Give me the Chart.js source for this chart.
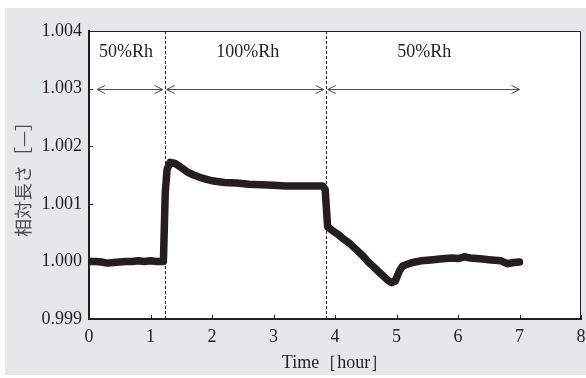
<!DOCTYPE html>
<html>
<head>
<meta charset="utf-8">
<script src="https://cdn.jsdelivr.net/npm/chart.js@4.4.1/dist/chart.umd.min.js"></script>
<style>
  html, body { margin: 0; padding: 0; background: #ffffff; }
  #wrap { width: 586px; height: 378px; }
</style>
</head>
<body>
<div id="wrap"><canvas id="c" width="586" height="378"></canvas></div>
<script>
// 時間 [hour]
const times = [0, 0.1, 0.2, 0.3, 0.4, 0.5, 0.6, 0.7, 0.8, 0.9, 1.0, 1.1, 1.21, 1.24, 1.27, 1.32,
  1.4, 1.5, 1.6, 1.7, 1.8, 1.9, 2.0, 2.2, 2.4, 2.6, 2.8, 3.0, 3.2, 3.4, 3.6, 3.8, 3.84, 3.88,
  3.95, 4.05, 4.15, 4.25, 4.35, 4.45, 4.55, 4.65, 4.75, 4.85, 4.92, 4.98, 5.05, 5.1, 5.2, 5.3,
  5.4, 5.5, 5.6, 5.7, 5.8, 5.9, 6.0, 6.1, 6.2, 6.3, 6.4, 6.5, 6.6, 6.7, 6.8, 6.9, 7.0];
// 相対長さ [-]
const lengths = [1.00000, 1.00000, 0.99999, 0.99997, 0.99998, 0.99999, 1.00000, 1.00000, 1.00001,
  1.00000, 1.00001, 1.00000, 1.00000, 1.00120, 1.00160, 1.00172, 1.00170, 1.00163, 1.00155,
  1.00150, 1.00146, 1.00143, 1.00140, 1.00137, 1.00136, 1.00134, 1.00133, 1.00132, 1.00131,
  1.00131, 1.00131, 1.00131, 1.00125, 1.00060, 1.00054, 1.00047, 1.00038, 1.00030, 1.00020,
  1.00010, 0.99998, 0.99988, 0.99978, 0.99968, 0.99963, 0.99966, 0.99984, 0.99992, 0.99996,
  0.99999, 1.00001, 1.00002, 1.00003, 1.00004, 1.00005, 1.00006, 1.00005, 1.00008, 1.00006,
  1.00005, 1.00004, 1.00003, 1.00002, 1.00001, 0.99996, 0.99998, 0.99999];

// 湿度条件の区切り
const phaseBounds = [0.13, 1.23, 3.85, 7.0];
const dividers = [1.23, 3.85];
const phaseLabels = ['50%Rh', '100%Rh', '50%Rh'];
const phaseLabelX = [0.6, 2.58, 5.45];
const phaseLabelY = 1.00363;
const arrowY = 1.003;

const xTicks = [0, 1, 2, 3, 4, 5, 6, 7, 8];
const yTicks = [0.999, 1.000, 1.001, 1.002, 1.003, 1.004];

const INK = '#231f20';
const SERIF = '"Liberation Serif", "Times New Roman", serif';

const decor = {
  id: 'decor',
  beforeDraw(chart) {
    const { ctx, chartArea: a } = chart;
    ctx.save();
    ctx.fillStyle = '#e6e7e8';
    ctx.fillRect(5, 8, 581, 367);
    ctx.fillStyle = '#ffffff';
    ctx.fillRect(a.left, a.top, a.right - a.left, a.bottom - a.top);
    ctx.restore();
  },
  afterDatasetsDraw(chart) {
    const { ctx, chartArea: a, scales: { x, y } } = chart;
    ctx.save();
    // 区切りの点線
    ctx.strokeStyle = INK;
    ctx.lineWidth = 1;
    ctx.setLineDash([3, 2]);
    dividers.forEach(d => {
      const px = Math.round(x.getPixelForValue(d)) + 0.5;
      ctx.beginPath();
      ctx.moveTo(px, a.top);
      ctx.lineTo(px, a.bottom);
      ctx.stroke();
    });
    ctx.setLineDash([]);
    // 矢印
    ctx.strokeStyle = '#4d4d4f';
    const ay = Math.round(y.getPixelForValue(arrowY)) + 0.5;
    for (let i = 0; i < phaseBounds.length - 1; i++) {
      const x0 = x.getPixelForValue(phaseBounds[i]) + (i > 0 ? 2 : 0);
      const x1 = x.getPixelForValue(phaseBounds[i + 1]) - (i < phaseBounds.length - 2 ? 2 : 0);
      ctx.beginPath();
      ctx.moveTo(x0, ay);
      ctx.lineTo(x1, ay);
      ctx.moveTo(x0 + 8, ay - 4);
      ctx.lineTo(x0, ay);
      ctx.lineTo(x0 + 8, ay + 4);
      ctx.moveTo(x1 - 8, ay - 4);
      ctx.lineTo(x1, ay);
      ctx.lineTo(x1 - 8, ay + 4);
      ctx.stroke();
    }
    // ラベル
    ctx.fillStyle = INK;
    ctx.font = '18px ' + SERIF;
    ctx.textAlign = 'center';
    ctx.textBaseline = 'middle';
    phaseLabels.forEach((t, i) => {
      ctx.fillText(t, x.getPixelForValue(phaseLabelX[i]), y.getPixelForValue(phaseLabelY));
    });
    // 内向きの目盛り
    ctx.strokeStyle = INK;
    ctx.lineWidth = 1;
    xTicks.forEach(v => {
      const px = Math.round(x.getPixelForValue(v)) + 0.5;
      ctx.beginPath();
      ctx.moveTo(px, a.bottom);
      ctx.lineTo(px, a.bottom - 4);
      ctx.stroke();
    });
    yTicks.forEach(v => {
      const py = Math.round(y.getPixelForValue(v)) + 0.5;
      ctx.beginPath();
      ctx.moveTo(a.left, py);
      ctx.lineTo(a.left + 4, py);
      ctx.stroke();
    });
    // 上・右の枠
    ctx.beginPath();
    ctx.moveTo(a.left, a.top + 0.5);
    ctx.lineTo(a.right - 0.5, a.top + 0.5);
    ctx.lineTo(a.right - 0.5, a.bottom);
    ctx.stroke();
    ctx.restore();
  }
};

new Chart(document.getElementById('c'), {
  type: 'line',
  data: {
    datasets: [{
      data: times.map((t, i) => ({ x: t, y: lengths[i] })),
      borderColor: INK,
      borderWidth: 7.5,
      borderJoinStyle: 'round',
      borderCapStyle: 'round',
      pointRadius: 0,
      tension: 0
    }]
  },
  options: {
    responsive: false,
    animation: false,
    layout: { padding: { top: 31, right: 5, left: 5, bottom: 0 } },
    plugins: { legend: { display: false }, tooltip: { enabled: false } },
    scales: {
      x: {
        type: 'linear',
        min: 0,
        max: 8,
        afterBuildTicks: s => { s.ticks = xTicks.map(v => ({ value: v })); },
        afterFit: s => { s.height = 59; s.paddingLeft = 0; s.paddingRight = 0; },
        grid: { display: false, drawTicks: false },
        border: { display: true, color: INK, width: 2 },
        ticks: {
          color: INK,
          padding: 7,
          font: { family: SERIF, size: 18 },
          callback: v => String(v)
        },
        title: {
          display: true,
          text: 'Time［hour］',
          color: INK,
          font: { family: SERIF, size: 18 },
          padding: { top: 0, bottom: 4 }
        }
      },
      y: {
        type: 'linear',
        min: 0.999,
        max: 1.004,
        afterBuildTicks: s => { s.ticks = yTicks.map(v => ({ value: v })); },
        afterFit: s => { s.width = 84; s.paddingTop = 0; s.paddingBottom = 0; },
        grid: { display: false, drawTicks: false },
        border: { display: true, color: INK, width: 2 },
        ticks: {
          color: INK,
          padding: 7,
          font: { family: SERIF, size: 18 },
          callback: v => Number(v).toFixed(3)
        },
        title: {
          display: true,
          text: '相対長さ［—］',
          color: '#4d4d4f',
          font: { family: '"Noto Sans CJK JP", sans-serif', size: 18 },
          padding: { top: 7, bottom: 0 }
        }
      }
    }
  },
  plugins: [decor]
});
</script>
</body>
</html>
